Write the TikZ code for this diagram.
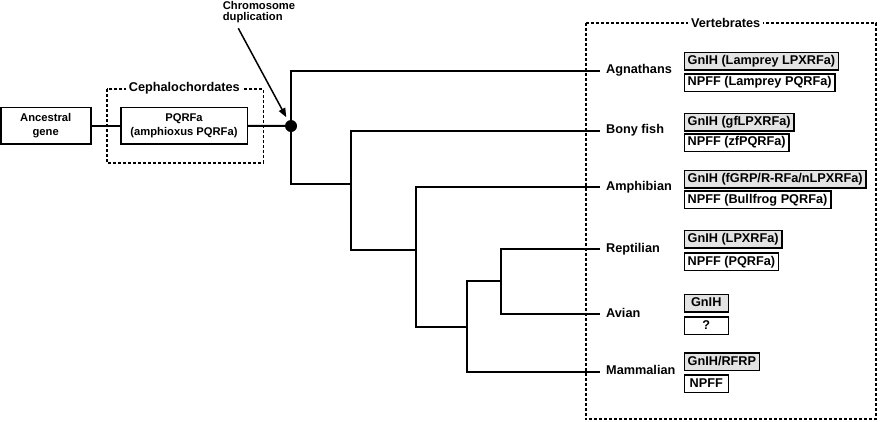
\documentclass[tikz,border=0pt]{standalone}
\usepackage{fontspec}
\setmainfont{Liberation Sans}
\usetikzlibrary{arrows.meta}

\begin{document}
\begin{tikzpicture}[x=1pt, y=-1pt, line join=miter,
  box/.style={draw, line width=1.6pt, align=center, inner sep=0pt, font=\fontsize{11.2}{13.4}\selectfont\bfseries},
  grp/.style={draw, line width=1.6pt, dash pattern=on 3pt off 2pt},
  grplabel/.style={fill=white, inner xsep=3pt, inner ysep=1pt, font=\fontsize{12.7}{14}\selectfont\bfseries},
  taxon/.style={anchor=west, inner xsep=6pt, inner ysep=1pt, text height=9pt, text depth=2.7pt, font=\fontsize{12.7}{14}\selectfont\bfseries},
  gene/.style={draw, line width=1.5pt, anchor=west, minimum width=44pt, minimum height=17.5pt, inner xsep=3.4pt, inner ysep=0pt, text height=9.5pt, text depth=2.8pt, font=\fontsize{12.7}{14}\selectfont\bfseries},
  gnih/.style={gene, fill=gray!22},
  npff/.style={gene, fill=white},
  branch/.style={line width=2pt}]
  \useasboundingbox (0,0) rectangle (880,421);

  % groups
  \draw[grp] (106.7,89) rectangle (263.3,162.7);
  \node[grplabel] (cephlabel) at (184.3,88.3) {Cephalochordates};
  \draw[grp] (585.7,22.7) rectangle (876,419);
  \node[grplabel] (vertlabel) at (725.7,22.7) {Vertebrates};

  % ancestral side
  \node[box, minimum width=90pt, minimum height=36.7pt] (anc) at (45.7,125.7) {Ancestral\\gene};
  \node[box, minimum width=126.6pt, minimum height=36.7pt] (pqrfa) at (184,125.7) {PQRFa\\(amphioxus PQRFa)};
  \node[anchor=north west, align=left, inner sep=0pt, font=\fontsize{11.2}{11.7}\selectfont\bfseries] (dup) at (222.7,0.8) {Chromosome\\duplication};

  \coordinate (root) at (291,126);
  \coordinate (n1) at (351,184.3);
  \coordinate (n2) at (416,250);
  \coordinate (n3) at (467,327);
  \coordinate (n4) at (501,281.3);
  \coordinate (arrowtail) at (238.3,28.3);

  % taxa
  \node[taxon] (agn) at (600,70.7) {Agnathans};
  \node[taxon] (fish) at (600,130.7) {Bony fish};
  \node[taxon] (amph) at (600,187) {Amphibian};
  \node[taxon] (rept) at (600,249) {Reptilian};
  \node[taxon] (avian) at (600,314) {Avian};
  \node[taxon] (mamm) at (600,371.7) {Mammalian};

  % genes
  \node[gnih] (agngnih) at (683.5,61.3) {GnIH (Lamprey LPXRFa)};
  \node[npff] (agnnpff) at (683.5,82.5) {NPFF (Lamprey PQRFa)};
  \node[gnih] (fishgnih) at (683.5,122.2) {GnIH (gfLPXRFa)};
  \node[npff] (fishnpff) at (683.5,142.5) {NPFF (zfPQRFa)};
  \node[gnih] (amphgnih) at (683.5,179.3) {GnIH (fGRP/R-RFa/nLPXRFa)};
  \node[npff] (amphnpff) at (683.5,199.8) {NPFF (Bullfrog PQRFa)};
  \node[gnih] (reptgnih) at (683.5,239.2) {GnIH (LPXRFa)};
  \node[npff] (reptnpff) at (683.5,261.7) {NPFF (PQRFa)};
  \node[gnih] (aviangnih) at (683.5,303.2) {GnIH};
  \node[npff] (aviannpff) at (683.5,325.8) {?};
  \node[gnih] (mammgnih) at (683.5,361.8) {GnIH/RFRP};
  \node[npff] (mammnpff) at (683.5,383.8) {NPFF};

  % tree
  \draw[branch] (anc) -- (pqrfa);
  \draw[branch] (pqrfa) -- (root);
  \draw[branch] (root) |- (agn.west);
  \draw[branch] (root) |- (n1);
  \draw[branch] (n1) |- (fish.west);
  \draw[branch] (n1) |- (n2);
  \draw[branch] (n2) |- (amph.west);
  \draw[branch] (n2) |- (n3);
  \draw[branch] (n3) |- (n4);
  \draw[branch] (n3) |- (mamm.west);
  \draw[branch] (n4) |- (rept.west);
  \draw[branch] (n4) |- (avian.west);
  \fill (root) circle (6pt);
  \draw[line width=1.5pt, -{Triangle[length=9pt,width=7pt]}, shorten >=10pt] (arrowtail) -- (root);
\end{tikzpicture}
\end{document}
